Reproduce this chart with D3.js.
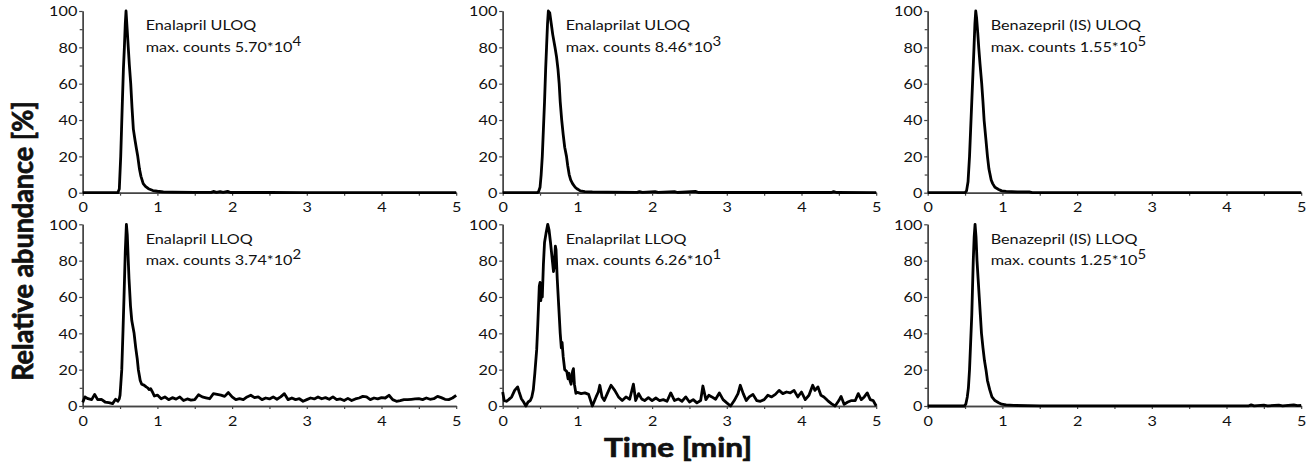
<!DOCTYPE html>
<html>
<head>
<meta charset="utf-8">
<script src="https://cdn.jsdelivr.net/npm/d3@7"></script>
<style>
    body { margin: 0; background: #fff; }
    svg { display: block; font-family: Lato, "Open Sans", sans-serif; }
    .axis .domain { stroke: #444; stroke-width: 1.4; }
    .axis line { stroke: #444; stroke-width: 1.2; }
    .axis text { font-size: 13.5px; fill: #111; font-family: Lato, sans-serif; }
</style>
</head>
<body>
<svg id="chart" width="1312" height="470"></svg>
<script>
// tick values
const timeTicks = [0, 1, 2, 3, 4, 5];
const timeMinor = [0.5, 1.5, 2.5, 3.5, 4.5];
const abundanceTicks = [0, 20, 40, 60, 80, 100];
const abundanceMinor = [10, 30, 50, 70, 90];

// panel labels
const panelTitles = ["Enalapril ULOQ", "Enalaprilat ULOQ", "Benazepril (IS) ULOQ",
    "Enalapril LLOQ", "Enalaprilat LLOQ", "Benazepril (IS) LLOQ"];
const maxCounts = ["5.70", "8.46", "1.55", "3.74", "6.26", "1.25"];
const countExponents = ["4", "3", "5", "2", "1", "5"];

// traces, [time (min), relative abundance (%)]
const enalaprilULOQ = [[0, 0], [0.47, 0], [0.49, 2], [0.509, 20], [0.52, 35], [0.531, 50], [0.545, 68], [0.558, 80],
    [0.57, 93], [0.58, 100], [0.595, 90], [0.61, 80], [0.625, 70], [0.643, 60], [0.66, 47], [0.678, 35], [0.70, 29],
    [0.72, 24], [0.737, 20], [0.76, 13], [0.78, 9], [0.81, 5], [0.84, 3.5], [0.88, 2.2], [0.94, 1.2], [1.0, 0.8],
    [1.08, 0.5], [1.2, 0.35], [1.5, 0.2], [1.72, 0.2], [1.75, 0.7], [1.79, 0.2], [1.84, 0.6], [1.88, 0.2],
    [1.94, 0.7], [1.98, 0.1], [2.5, 0.1], [3, 0], [5, 0]];

const enalaprilatULOQ = [[0, 0], [0.46, 0], [0.48, 0.5], [0.50, 3], [0.515, 10], [0.53, 20], [0.545, 35],
    [0.56, 50], [0.575, 68], [0.587, 80], [0.60, 93], [0.611, 100], [0.63, 99], [0.65, 93], [0.67, 87], [0.70, 80],
    [0.72, 75], [0.74, 68], [0.756, 60], [0.77, 50], [0.79, 40], [0.81, 32], [0.83, 25], [0.854, 20], [0.87, 15],
    [0.89, 10], [0.91, 7], [0.935, 5], [0.97, 3], [1.0, 2], [1.04, 1], [1.1, 0.6], [1.2, 0.4], [1.4, 0.3],
    [1.8, 0.2], [1.83, 0.6], [1.87, 0.2], [2.04, 0.6], [2.08, 0.2], [2.3, 0.6], [2.34, 0.1], [2.58, 0.7],
    [2.62, 0.1], [4.40, 0.1], [4.43, 0.6], [4.47, 0.1], [5, 0]];

const benazeprilULOQ = [[0, 0], [0.50, 0], [0.52, 1], [0.54, 6], [0.56, 20], [0.575, 35], [0.59, 50], [0.605, 65],
    [0.62, 80], [0.632, 93], [0.643, 100], [0.655, 96], [0.67, 88], [0.683, 80], [0.70, 71], [0.723, 60],
    [0.74, 50], [0.755, 40], [0.78, 29], [0.80, 20], [0.82, 13], [0.85, 7], [0.87, 5], [0.9, 3], [0.95, 1.8],
    [0.99, 1], [1.05, 0.7], [1.2, 0.5], [1.36, 0.4], [1.4, 0.05], [5, 0]];

const enalaprilLLOQ = [[0, 2], [0.03, 5], [0.07, 4], [0.12, 3.5], [0.16, 6.4], [0.2, 3.5], [0.25, 3.7], [0.3, 2.2],
    [0.35, 1.8], [0.4, 1.3], [0.44, 3.7], [0.47, 2.6], [0.49, 4], [0.5, 6], [0.51, 12], [0.523, 20], [0.54, 42],
    [0.553, 60], [0.57, 85], [0.585, 100], [0.597, 94], [0.61, 80], [0.62, 70], [0.64, 55], [0.657, 47],
    [0.688, 40], [0.71, 32], [0.73, 26], [0.745, 20], [0.77, 14], [0.79, 12], [0.82, 11.5], [0.85, 10.5],
    [0.87, 10], [0.89, 9], [0.91, 9.5], [0.93, 8], [0.96, 5.5], [1.0, 6], [1.05, 4], [1.1, 5], [1.15, 3.5],
    [1.2, 4.6], [1.25, 3.8], [1.3, 5], [1.35, 3], [1.4, 3.9], [1.45, 3.2], [1.5, 3.5], [1.55, 6.2], [1.6, 5],
    [1.65, 4.5], [1.7, 4], [1.75, 6.8], [1.8, 6.4], [1.85, 6], [1.9, 5.3], [1.95, 7.4], [2.0, 5], [2.05, 3.5],
    [2.1, 4], [2.15, 3.5], [2.2, 5], [2.25, 5.9], [2.3, 4.6], [2.35, 5], [2.4, 3.5], [2.45, 4.4], [2.5, 3.9],
    [2.55, 5], [2.6, 3.7], [2.65, 5], [2.7, 6.8], [2.75, 3.5], [2.8, 4.4], [2.85, 3.5], [2.9, 4], [2.95, 2.6],
    [3.0, 3.5], [3.05, 4.4], [3.1, 3.9], [3.15, 5], [3.2, 4], [3.25, 4.6], [3.3, 3.7], [3.35, 5], [3.4, 3.5],
    [3.45, 3.9], [3.5, 3], [3.55, 4.2], [3.6, 3], [3.65, 3.9], [3.7, 4.4], [3.75, 5.3], [3.8, 5], [3.85, 3.5],
    [3.9, 4.4], [3.95, 3.9], [4.0, 4.6], [4.05, 4.4], [4.1, 5.9], [4.15, 3.5], [4.2, 2.6], [4.25, 3], [4.3, 3.5],
    [4.35, 3.5], [4.4, 3.7], [4.45, 3.9], [4.5, 4], [4.55, 3.5], [4.6, 4.4], [4.65, 3.7], [4.7, 4], [4.75, 5.3],
    [4.8, 4.6], [4.85, 3.7], [4.9, 3.5], [4.95, 4.4], [5.0, 5.9]];

const enalaprilatLLOQ = [[0, 7.7], [0.02, 3], [0.05, 2.6], [0.08, 3.5], [0.12, 5], [0.16, 8.6], [0.2, 10.5],
    [0.22, 7.7], [0.25, 4], [0.28, 2.2], [0.31, 0], [0.34, 2.2], [0.37, 3], [0.39, 5], [0.41, 9], [0.43, 18],
    [0.455, 31], [0.47, 45], [0.49, 66], [0.50, 68], [0.51, 58], [0.52, 66], [0.53, 60], [0.545, 78], [0.56, 90],
    [0.58, 95], [0.603, 100], [0.62, 97], [0.64, 90], [0.66, 82], [0.68, 74], [0.69, 77], [0.705, 88], [0.714, 86],
    [0.73, 70], [0.75, 55], [0.77, 40], [0.785, 32], [0.795, 35], [0.81, 27], [0.83, 20], [0.858, 19], [0.875, 15],
    [0.89, 18], [0.9, 14], [0.916, 12], [0.935, 19], [0.947, 20.6], [0.96, 12], [0.98, 7], [1.0, 7.5],
    [1.05, 6.8], [1.1, 7.2], [1.15, 6.4], [1.2, 0], [1.25, 5], [1.28, 7.7], [1.3, 11.4], [1.33, 5], [1.36, 3],
    [1.4, 6.8], [1.45, 11.4], [1.5, 8.6], [1.55, 5], [1.6, 3], [1.65, 5], [1.7, 3.7], [1.75, 12], [1.78, 3],
    [1.82, 6.8], [1.86, 3.9], [1.9, 3], [1.95, 4.6], [2.0, 3], [2.05, 4.4], [2.1, 3], [2.15, 3.5], [2.2, 2.6],
    [2.25, 7.2], [2.3, 3], [2.35, 3.9], [2.4, 2.6], [2.45, 5], [2.5, 2.2], [2.55, 3.5], [2.6, 1.7], [2.65, 3],
    [2.68, 11], [2.72, 3.5], [2.76, 5.9], [2.8, 5], [2.85, 3.7], [2.9, 7.2], [2.95, 3.5], [3.0, 1.7], [3.05, 0],
    [3.1, 3], [3.15, 6.8], [3.18, 11.4], [3.22, 6.8], [3.26, 3], [3.3, 5], [3.35, 6.4], [3.4, 3], [3.45, 2.6],
    [3.5, 3.5], [3.55, 5.9], [3.6, 5], [3.65, 6.4], [3.7, 8.6], [3.75, 6.8], [3.8, 7.7], [3.85, 7.2], [3.9, 8.6],
    [3.95, 5], [4.0, 7.7], [4.05, 3.5], [4.1, 5.9], [4.15, 11.4], [4.18, 8.6], [4.22, 10.5], [4.26, 5.9],
    [4.3, 5], [4.35, 3], [4.4, 1.3], [4.45, 0], [4.5, 3], [4.53, 5.3], [4.57, 0.9], [4.62, 2.2], [4.67, 3],
    [4.72, 3], [4.76, 6.8], [4.8, 3.5], [4.84, 5], [4.88, 7.2], [4.92, 3.5], [4.96, 3], [5.0, 0]];

const benazeprilLLOQ = [[0, 0], [0.49, 0], [0.51, 1], [0.53, 5], [0.545, 10], [0.56, 20], [0.575, 35], [0.59, 50],
    [0.60, 65], [0.61, 80], [0.622, 93], [0.634, 100], [0.647, 93], [0.66, 80], [0.675, 70], [0.69, 60],
    [0.705, 50], [0.72, 40], [0.74, 32], [0.76, 25], [0.78, 20], [0.80, 14], [0.83, 9], [0.86, 5], [0.9, 3],
    [0.95, 1.8], [0.99, 1], [1.05, 0.6], [1.15, 0.3], [1.5, 0.1], [4.3, 0.1], [4.33, 0.6], [4.37, 0.1],
    [4.5, 0.5], [4.55, 0.1], [4.7, 0.5], [4.75, 0.1], [4.9, 0.6], [4.95, 0.2], [5, 0.3]];

const traces = [enalaprilULOQ, enalaprilatULOQ, benazeprilULOQ, enalaprilLLOQ, enalaprilatLLOQ, benazeprilLLOQ];

const svg = d3.select("#chart");
const colX = [82.7, 502.7, 927.7], rowY = [11, 224.3];
const pw = 373.5, ph = 181.7;
const sx = 1.2; // the figure's text is slightly wide

const clip = svg.append("defs").append("clipPath").attr("id", "topClip");
clip.append("rect").attr("x", 0).attr("y", -20).attr("width", 400).attr("height", 58.5);

traces.forEach((data, i) => {
    const col = i % 3, row = Math.floor(i / 3);
    const g = svg.append("g").attr("transform", `translate(${colX[col]},${rowY[row]})`);

    const x = d3.scaleLinear().domain([0, 5]).range([0, pw]);
    const y = d3.scaleLinear().domain([0, 100]).range([ph, 0]);

    // x axis
    g.append("g").attr("class", "axis").attr("transform", `translate(0,${ph})`)
        .call(d3.axisBottom(x).tickValues(timeMinor).tickSize(3).tickSizeOuter(0).tickFormat(""));
    const xa = g.append("g").attr("class", "axis").attr("transform", `translate(0,${ph})`)
        .call(d3.axisBottom(x).tickValues(timeTicks).tickSize(3).tickSizeOuter(0).tickFormat(d3.format("d")));
    xa.selectAll("text").attr("y", row === 0 ? 19.3 : 20.5).attr("dy", null)
        .attr("transform", `scale(${sx},1)`);

    // y axis
    g.append("g").attr("class", "axis")
        .call(d3.axisLeft(y).tickValues(abundanceMinor).tickSize(3).tickSizeOuter(0).tickFormat(""));
    const ya = g.append("g").attr("class", "axis")
        .call(d3.axisLeft(y).tickValues(abundanceTicks).tickSize(3.5).tickSizeOuter(0).tickFormat(d3.format("d")));
    ya.selectAll("text").attr("x", -4.5).attr("dy", "0.36em")
        .attr("transform", `scale(${sx},1)`);

    // trace
    const line = d3.line().x(d => x(d[0])).y(d => y(d[1]));
    g.append("path").datum(data)
        .attr("d", line)
        .attr("fill", "none")
        .attr("stroke", "#000")
        .attr("stroke-width", 2.8)
        .attr("stroke-linejoin", "round");

    // label
    const lab = g.append("g").attr("transform", `translate(63,${row === 0 ? 19 : 19.7})`);
    lab.append("text").attr("transform", `scale(${sx},1)`)
        .attr("font-size", 13.5).attr("fill", "#111")
        .text(panelTitles[i]);
    const second = lab.append("g");
    if (row === 0) second.attr("clip-path", "url(#topClip)");
    const t2 = second.append("text").attr("transform", `translate(0,${row === 0 ? 21.5 : 21}) scale(${sx},1)`)
        .attr("font-size", 13.5).attr("fill", "#111");
    t2.append("tspan").text(`max. counts ${maxCounts[i]}*10`);
    t2.append("tspan").attr("dy", -6).attr("font-size", 12.5).text(countExponents[i]);
});

// axis titles
svg.append("text")
    .attr("transform", `translate(33.3,241) rotate(-90) scale(1,1.06)`)
    .attr("text-anchor", "middle")
    .attr("font-size", 27).attr("font-weight", "bold").attr("fill", "#111")
    .attr("stroke", "#111").attr("stroke-width", 0.7)
    .text("Relative abundance [%]");

svg.append("text")
    .attr("transform", `translate(678,456.5) scale(1.17,1)`)
    .attr("text-anchor", "middle")
    .attr("font-size", 27).attr("font-weight", "bold").attr("fill", "#111")
    .attr("stroke", "#111").attr("stroke-width", 0.7)
    .text("Time [min]");
</script>
</body>
</html>
